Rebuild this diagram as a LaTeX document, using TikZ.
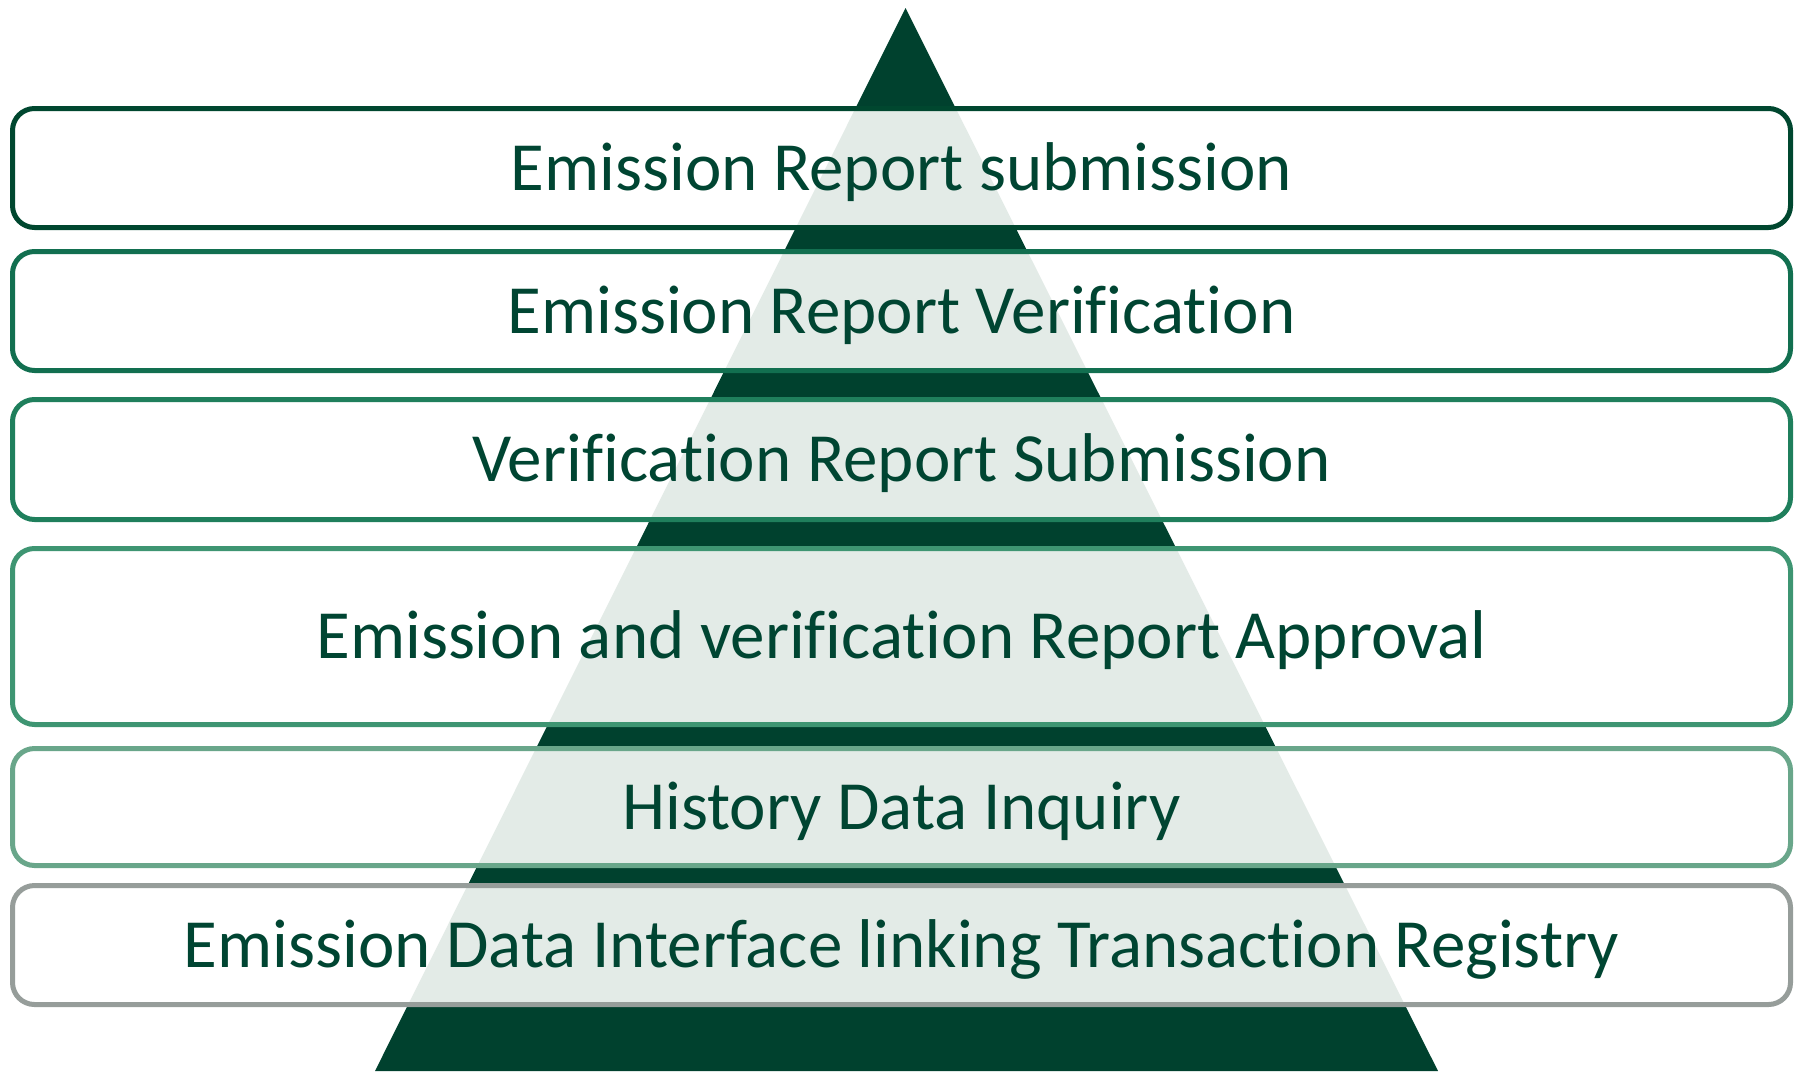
\documentclass[tikz,border=0pt]{standalone}
\usepackage{fontspec}
\setmainfont[Ligatures=NoCommon]{Carlito}

\definecolor{pyrdark}{HTML}{00412E}
\definecolor{pyrlight}{HTML}{E3EBE7}
\definecolor{txtgreen}{HTML}{004532}
\definecolor{edgeA}{HTML}{00472F}
\definecolor{edgeB}{HTML}{126F50}
\definecolor{edgeC}{HTML}{1F7F5C}
\definecolor{edgeD}{HTML}{3E9572}
\definecolor{edgeE}{HTML}{69A68A}
\definecolor{edgeF}{HTML}{969D9A}

\begin{document}
\begin{tikzpicture}[x=1pt,y=-1pt]
    % Page frame
    \useasboundingbox (0,0) rectangle (1795,1071);

    % Corners of the pyramid
    \coordinate (apex) at (905.5,8);
    \coordinate (baseL) at (375,1071);
    \coordinate (baseR) at (1438,1071);

    % Dark pyramid behind the layers
    \fill[pyrdark] (apex) -- (baseL) -- (baseR) -- cycle;

    % Style of one layer: white box, pyramid shown light inside it
    \tikzset{layer/.style={draw=#1, line width=5pt, rounded corners=22pt,
        fill=white, minimum width=1778pt, inner sep=0pt,
        text=txtgreen, font=\fontsize{69}{83}\selectfont,
        text height=44pt, text depth=0pt,
        path picture={\fill[pyrlight] (apex) -- (baseL) -- (baseR) -- cycle;}}}

    % Layers, top to bottom
    \node[layer=edgeA, minimum height=119pt] (submit) at (901.5,168) {Emission Report submission};
    \node[layer=edgeB, minimum height=119pt] (verify) at (901.5,311) {Emission Report Verification};
    \node[layer=edgeC, minimum height=120pt] (vsubmit) at (901.5,459.5) {Verification Report Submission};
    \node[layer=edgeD, minimum height=176pt] (approve) at (901.5,636.5) {Emission and verification Report Approval};
    \node[layer=edgeE, minimum height=117pt] (history) at (901.5,807) {History Data Inquiry};
    \node[layer=edgeF, minimum height=119pt] (registry) at (901.5,945) {Emission Data Interface linking Transaction Registry};
\end{tikzpicture}
\end{document}
